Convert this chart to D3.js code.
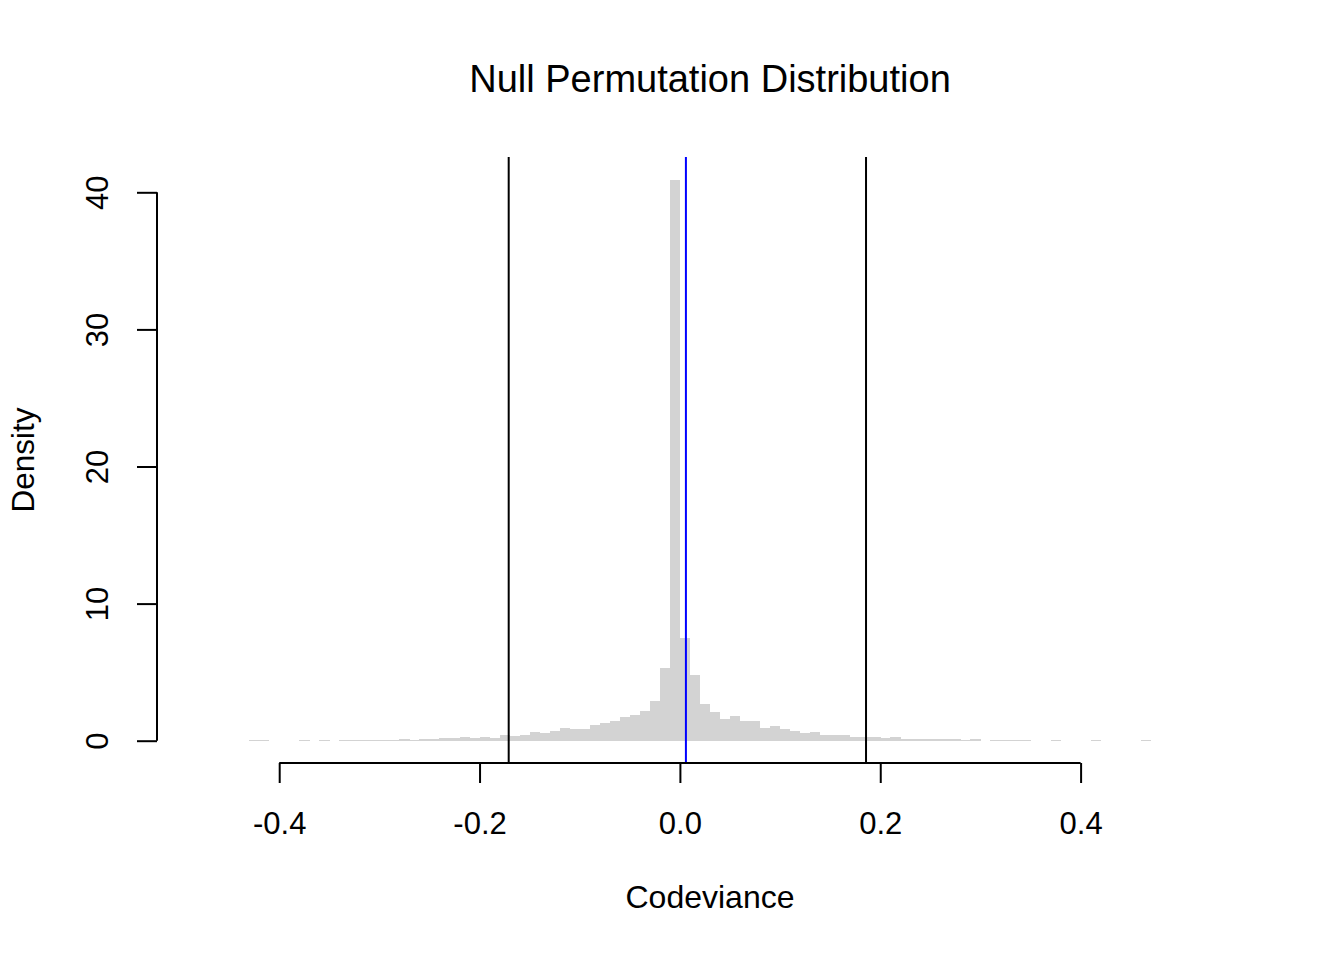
<!DOCTYPE html>
<html>
<head>
<meta charset="utf-8">
<script src="https://cdn.jsdelivr.net/npm/d3@7"></script>
<style>
  html, body { margin: 0; padding: 0; background: #fff; }
  svg { display: block; }
  text { font-family: "Liberation Sans", Arial, Helvetica, sans-serif; fill: #000; }
</style>
</head>
<body>
<svg id="chart" width="1344" height="960"></svg>
<script>
// ---- data ----
const binStart = -0.43;
const binWidth = 0.01;
const densities = [
  0.07, 0.07, 0, 0, 0, 0.07, 0, 0.07, 0, 0.07,          // -0.43 .. -0.34
  0.07, 0.07, 0.07, 0.07, 0.07, 0.15, 0.07, 0.12, 0.12, 0.2, // -0.33 .. -0.24
  0.2, 0.27, 0.2, 0.27, 0.2, 0.44, 0.37, 0.44, 0.63, 0.56,   // -0.23 .. -0.14
  0.71, 0.93, 0.85, 0.85, 1.17, 1.29, 1.44, 1.73, 1.85, 2.15,// -0.13 .. -0.04
  2.88, 5.3, 40.87, 7.5, 4.82, 2.7, 2.12, 1.6, 1.83, 1.46,   // -0.03 .. 0.06
  1.46, 0.95, 1.1, 0.88, 0.73, 0.58, 0.66, 0.44, 0.44, 0.44, // 0.07 .. 0.16
  0.29, 0.29, 0.29, 0.22, 0.29, 0.15, 0.15, 0.15, 0.1, 0.1,  // 0.17 .. 0.26
  0.1, 0.05, 0.12, 0, 0.07, 0.07, 0.07, 0.07, 0, 0,          // 0.27 .. 0.36
  0.07, 0, 0, 0, 0.07, 0, 0, 0, 0, 0.07                      // 0.37 .. 0.46
];
const xTicks = [-0.4, -0.2, 0.0, 0.2, 0.4];
const yTicks = [0, 10, 20, 30, 40];
const lowerCrit = -0.1709;
const upperCrit = 0.1858;
const observed = 0.006;
const titleText = "Null Permutation Distribution";
const xLabel = "Codeviance";
const yLabel = "Density";

const bins = densities.map((d, i) => ({
  x0: binStart + i * binWidth,
  x1: binStart + (i + 1) * binWidth,
  density: d
}));

// ---- layout ----
const svg = d3.select("#chart");
const plotTop = 157, plotBottom = 763, plotLeft = 157, plotRight = 1263;
const FONT = '"Liberation Sans", Arial, Helvetica, sans-serif';

const x = d3.scaleLinear().domain([-0.4, 0.4]).range([279.2, 1080.6]);
const y = d3.scaleLinear().domain([0, 40]).range([740.7, 192.3]);

// bars
svg.append("g").selectAll("rect").data(bins.filter(b => b.density > 0)).join("rect")
  .attr("x", d => x(d.x0))
  .attr("width", d => x(d.x1) - x(d.x0) + 0.3)
  .attr("y", d => y(d.density))
  .attr("height", d => Math.max(1, y(0) - y(d.density)))
  .attr("fill", "#d3d3d3")
  .attr("shape-rendering", "crispEdges");

// vertical reference lines
const vlines = [
  { v: lowerCrit, c: "#000" },
  { v: upperCrit, c: "#000" },
  { v: observed, c: "#0000ff" }
];
svg.append("g").selectAll("line").data(vlines).join("line")
  .attr("x1", d => x(d.v)).attr("x2", d => x(d.v))
  .attr("y1", plotTop).attr("y2", plotBottom)
  .attr("stroke", d => d.c).attr("stroke-width", 2);

// x axis
const xAxis = d3.axisBottom(x).tickValues(xTicks)
  .tickFormat(d3.format(".1f")).tickSize(20).tickPadding(12);
const gx = svg.append("g").attr("transform", `translate(0,${plotBottom})`).call(xAxis);
gx.select(".domain").attr("stroke-width", 2).attr("d", `M${x(-0.4)},0H${x(0.4)}`);
gx.selectAll(".tick line").attr("stroke-width", 2);
gx.selectAll(".tick text")
  .attr("font-size", 31)
  .attr("font-family", FONT)
  .attr("dy", null).attr("y", 71)
  .text(d => d3.format(".1f")(d).replace("−", "-"));

// y axis
const yAxis = d3.axisLeft(y).tickValues(yTicks).tickSize(20).tickPadding(0);
const gy = svg.append("g").attr("transform", `translate(${plotLeft},0)`).call(yAxis);
gy.select(".domain").attr("stroke-width", 2).attr("d", `M0,${y(0)}V${y(40)}`);
gy.selectAll(".tick line").attr("stroke-width", 2);
gy.selectAll(".tick text")
  .attr("font-size", 31)
  .attr("font-family", FONT)
  .attr("x", null).attr("dy", null)
  .attr("text-anchor", "middle")
  .attr("transform", "translate(-49,0) rotate(-90)");

// title
svg.append("text")
  .attr("x", (plotLeft + plotRight) / 2).attr("y", 92)
  .attr("text-anchor", "middle").attr("font-size", 38)
  .text(titleText);

// x label
svg.append("text")
  .attr("x", (plotLeft + plotRight) / 2).attr("y", 908)
  .attr("text-anchor", "middle").attr("font-size", 32)
  .text(xLabel);

// y label
svg.append("text")
  .attr("transform", `translate(34,${(plotTop + plotBottom) / 2}) rotate(-90)`)
  .attr("text-anchor", "middle").attr("font-size", 31.5)
  .text(yLabel);
</script>
</body>
</html>
